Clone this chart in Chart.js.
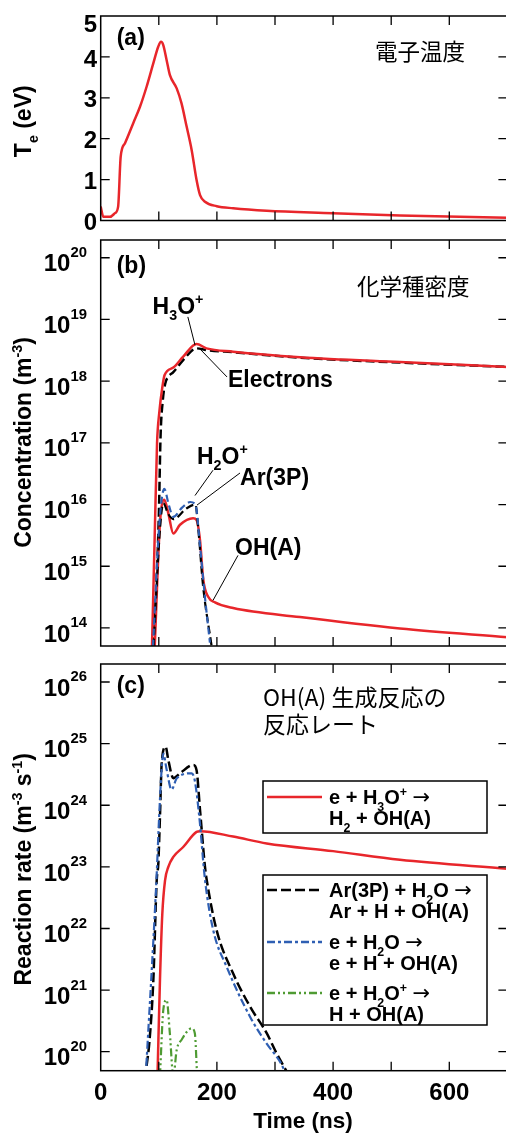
<!DOCTYPE html>
<html><head><meta charset="utf-8">
<script src="https://cdn.jsdelivr.net/npm/chart.js@4/dist/chart.umd.min.js"></script>
<style>
html,body{margin:0;padding:0;background:#fff;overflow:hidden;width:506px;height:1133px;position:relative;}
canvas{position:absolute;left:0;}
</style></head><body>
<canvas id="ca" width="512" height="230" style="top:0px"></canvas>
<canvas id="cb" width="512" height="425" style="top:230px"></canvas>
<canvas id="cc" width="512" height="478" style="top:655px"></canvas>
<script>
// ---------- axis ticks ----------
const timeTicks = [0, 100, 200, 300, 400, 500, 600, 700];
const timeTickLabels = [0, 200, 400, 600];
const teTicks = [0, 1, 2, 3, 4, 5];
const concDecades = [14, 15, 16, 17, 18, 19, 20];
const rateDecades = [20, 21, 22, 23, 24, 25, 26];

// ---------- (a) electron temperature ----------
const teTime  = [0, 4.5, 16, 24.6, 30, 34.4, 41.8, 56, 67.6, 79, 90.5, 99, 103.8, 107.7, 113.5, 119, 130.8, 139, 148, 156.6, 165, 171, 179.5, 199.7, 228, 285.7, 400, 515, 700];
const teValue = [0.34, 0.09, 0.09, 0.18, 0.34, 1.56, 1.89, 2.38, 2.78, 3.27, 3.84, 4.25, 4.37, 4.29, 3.92, 3.56, 3.23, 2.87, 2.29, 1.72, 0.99, 0.62, 0.46, 0.35, 0.30, 0.24, 0.18, 0.12, 0.07];

// ---------- (b) species densities (m^-3) ----------
const h3oTime = [88, 93, 97, 101, 106, 110, 125, 142, 165, 182, 228, 343, 515, 700];
const h3oConc = [4.0e13, 3.2e15, 1.0e17, 3.2e17, 7.9e17, 1.26e18, 1.66e18, 2.5e18, 4.0e18, 3.4e18, 3.0e18, 2.45e18, 2.04e18, 1.7e18];
const elecTime = [91, 100, 103, 107, 111, 116, 125, 142, 165, 182, 228, 343, 515, 700];
const elecConc = [5.0e13, 6.3e15, 1.26e17, 5.0e17, 9.1e17, 1.17e18, 1.4e18, 2.2e18, 3.4e18, 3.2e18, 2.95e18, 2.4e18, 2.0e18, 1.7e18];
const ohTime = [93, 102, 109.5, 116.4, 125, 136.5, 159, 165, 171, 176.6, 185, 196.7, 228, 343, 515, 700];
const ohConc = [5.0e13, 5.0e15, 1.2e16, 7.2e15, 3.4e15, 4.7e15, 6.0e15, 5.6e15, 2.6e15, 6.0e14, 3.2e14, 2.6e14, 2.1e14, 1.5e14, 9.8e13, 7.1e13];
const h2oTime = [90, 101, 109.5, 117, 125, 140, 154, 163, 171, 180, 188];
const h2oConc = [5.0e13, 5.0e15, 1.8e16, 1.0e16, 6.3e15, 8.9e15, 1.1e16, 1.0e16, 2.1e15, 2.8e14, 5.8e13];
const arTime = [91, 102, 107.8, 116, 125, 148, 163, 168, 176, 191];
const arConc = [5.0e13, 4.0e15, 1.05e16, 7.1e15, 5.8e15, 8.7e15, 1.0e16, 4.0e15, 5.0e14, 5.0e13];

// ---------- (c) reaction rates (m^-3 s^-1) ----------
const rArTime = [79, 83.7, 90.6, 96.4, 99.2, 102, 105, 111.8, 116.4, 125, 136.5, 159.4, 165, 171, 179.5, 182.4, 199.6, 228, 257, 285.7, 303, 320];
const rArRate = [5.9e19, 1.4e20, 1.45e21, 6.0e22, 1.15e23, 6.5e23, 4.8e24, 8.9e24, 5.4e24, 2.75e24, 3.3e24, 4.5e24, 3.7e24, 8.3e23, 1.0e23, 6.2e22, 9.3e21, 1.86e21, 5.4e20, 2.0e20, 9.3e19, 4.8e19];
const rEH2OTime = [78.5, 90.6, 96, 101, 105, 107.8, 113, 122, 131, 156.6, 162, 169.7, 179.5, 193.8, 216.7, 257, 285.7, 308.6, 317];
const rEH2ORate = [5.9e19, 6.3e21, 6.3e22, 7.9e23, 4.0e24, 6.9e24, 4.0e24, 1.8e24, 2.75e24, 3.3e24, 2.5e24, 6.5e23, 6.2e22, 9.3e21, 2.4e21, 3.7e20, 1.35e20, 6.9e19, 4.8e19];
const rH3OTime = [98, 102, 106, 110.7, 116.4, 125, 142, 165, 171, 228, 285.7, 400, 515, 700];
const rH3ORate = [5.0e19, 1.45e21, 1.7e22, 6.0e22, 1.0e23, 1.45e23, 2.1e23, 3.7e23, 3.8e23, 3.1e23, 2.4e23, 1.8e23, 1.3e23, 9.3e22];
const rH2OpTime = [102, 107.8, 113.5, 119, 125, 130.8, 139, 156.6, 162, 166];
const rH2OpRate = [4.0e19, 4.8e20, 6.9e20, 2.0e20, 4.0e19, 1.07e20, 1.55e20, 2.4e20, 2.0e20, 4.0e19];

// ---------- helpers ----------
const SANS = '"Liberation Sans", Arial, Helvetica, sans-serif';
const JP = '"Noto Sans CJK JP", "Noto Sans", sans-serif';
const ARROW = '"DejaVu Sans", sans-serif';
const RED = '#e8262b', BLUE = '#2f5fb3', GREEN = '#4f9b33', BLACK = '#000000';

function pts(xs, ys) { return xs.map((x, i) => ({x: x, y: ys[i]})); }

function segFont(s, o) {
  const size = o.size, wt = o.weight || 'bold', fam = o.family || SANS, sc = o.scale || 0.62;
  if (s[1] === 3) return 'normal ' + (size * 1.05) + 'px ' + ARROW;
  return wt + ' ' + (s[1] ? size * sc : size) + 'px ' + fam;
}

function rich(ctx, segs, x, y, o) {
  const size = o.size;
  const supDy = (o.supDy !== undefined ? o.supDy : -0.45) * size;
  const subDy = (o.subDy !== undefined ? o.subDy : 0.28) * size;
  const widths = []; let total = 0;
  for (const s of segs) {
    ctx.font = segFont(s, o);
    const w = ctx.measureText(s[0]).width; widths.push(w); total += w;
  }
  let sx = o.align === 'center' ? x - total / 2 : (o.align === 'right' ? x - total : x);
  const base = y + size * 0.36;
  ctx.textBaseline = 'alphabetic'; ctx.textAlign = 'left'; ctx.fillStyle = o.color || '#000';
  segs.forEach((s, i) => {
    ctx.font = segFont(s, o);
    ctx.fillText(s[0], sx, base + (s[1] === 1 ? subDy : (s[1] === 2 ? supDy : 0)));
    sx += widths[i];
  });
}

function frameAndTicks(chart, yVals) {
  const ctx = chart.ctx, a = chart.chartArea, x = chart.scales.x, y = chart.scales.y;
  ctx.save();
  ctx.strokeStyle = '#000'; ctx.lineWidth = 1.5;
  ctx.strokeRect(a.left, a.top, a.right - a.left, a.bottom - a.top);
  ctx.lineWidth = 1.3; ctx.beginPath();
  for (const t of timeTicks) {
    const px = x.getPixelForValue(t);
    if (px <= a.left + 1 || px >= a.right - 1) continue;
    ctx.moveTo(px, a.top); ctx.lineTo(px, a.top + 9);
    ctx.moveTo(px, a.bottom); ctx.lineTo(px, a.bottom - 9);
  }
  for (const v of yVals) {
    const py = y.getPixelForValue(v);
    if (py <= a.top + 1 || py >= a.bottom - 1) continue;
    ctx.moveTo(a.left, py); ctx.lineTo(a.left + 9, py);
    ctx.moveTo(a.right, py); ctx.lineTo(a.right - 9, py);
  }
  ctx.stroke(); ctx.restore();
}

function logLabels(chart, decades) {
  const ctx = chart.ctx, y = chart.scales.y;
  ctx.save();
  for (const k of decades) {
    const py = y.getPixelForValue(Math.pow(10, k));
    rich(ctx, [['10'], [String(k), 2]], 87, py + 5, {size: 24, align: 'right', supDy: -0.59});
  }
  ctx.restore();
}

function yTitle(chart, segs, dy) {
  const ctx = chart.ctx, a = chart.chartArea;
  ctx.save();
  ctx.translate(23, (a.top + a.bottom) / 2 + dy);
  ctx.rotate(-Math.PI / 2);
  rich(ctx, segs, 0, 0, {size: 23, align: 'center', supDy: -0.42, subDy: 0.3});
  ctx.restore();
}

function baseOptions(yScale, topPad, bottomH) {
  return {
    responsive: false, animation: false, devicePixelRatio: 1,
    layout: {padding: {left: 0, right: 4.6, top: topPad, bottom: 0}},
    plugins: {legend: {display: false}, tooltip: {enabled: false}},
    elements: {point: {radius: 0}, line: {borderWidth: 2.5, tension: 0, borderJoinStyle: 'round', borderCapStyle: 'butt'}},
    scales: {
      x: {type: 'linear', min: 0, max: 700, ticks: {display: false}, grid: {display: false}, border: {display: false},
          afterFit: s => { s.height = bottomH; }},
      y: Object.assign({ticks: {display: false}, grid: {display: false}, border: {display: false},
          afterFit: s => { s.width = 100.7; }}, yScale)
    }
  };
}

function ds(data, color, dash, width) {
  return {data: data, borderColor: color, backgroundColor: color, borderDash: dash || [], borderWidth: width || 2.5,
          fill: false, pointRadius: 0, cubicInterpolationMode: 'monotone'};
}

// ---------- chart (a) ----------
new Chart(document.getElementById('ca'), {
  type: 'line',
  data: {datasets: [ds(pts(teTime, teValue), RED)]},
  options: baseOptions({type: 'linear', min: 0, max: 5}, 16, 9.5),
  plugins: [{
    id: 'decoA',
    afterDatasetsDraw(chart) {
      const ctx = chart.ctx, a = chart.chartArea, y = chart.scales.y;
      frameAndTicks(chart, teTicks);
      ctx.save();
      for (const v of teTicks) {
        const py = y.getPixelForValue(v);
        rich(ctx, [[String(v)]], 97, Math.max(py + 1, 23.5), {size: 24, align: 'right'});
      }
      yTitle(chart, [['T'], ['e', 1], [' (eV)']], 3);
      rich(ctx, [['(a)']], a.left + 16, a.top + 21, {size: 23});
      rich(ctx, [['電子温度']], 375, 52, {size: 22.5, weight: 'normal', family: JP});
      ctx.restore();
    }
  }]
});

// ---------- chart (b) ----------
const annB = [
  {segs: [['H'], ['3', 1], ['O'], ['+', 2]], t: 133, v: 1.7e19, align: 'center', line: [[150, 1.1e19], [162.3, 3.85e18]]},
  {segs: [['Electrons']], t: 219, v: 1.08e18, align: 'left', line: [[172.6, 3.2e18], [217.4, 1.17e18]]},
  {segs: [['H'], ['2', 1], ['O'], ['+', 2]], t: 165.7, v: 6.3e16, align: 'left', line: [[193.3, 3.6e16], [162.3, 1.4e16]]},
  {segs: [['Ar(3P)']], t: 239.8, v: 2.8e16, align: 'left', line: [[239.8, 3.25e16], [165.7, 9.8e15]]},
  {segs: [['OH(A)']], t: 231.2, v: 2.04e15, align: 'left', line: [[236.3, 1.5e15], [193.3, 2.8e14]]}
];
new Chart(document.getElementById('cb'), {
  type: 'line',
  data: {datasets: [
    ds(pts(h2oTime, h2oConc), BLUE, [7, 4], 2.2),
    ds(pts(arTime, arConc), BLACK, [8, 4], 2.2),
    ds(pts(ohTime, ohConc), RED),
    ds(pts(h3oTime, h3oConc), RED),
    ds(pts(elecTime, elecConc), BLACK, [9, 4], 2.5)
  ]},
  options: baseOptions({type: 'logarithmic', min: 5.1e13, max: 1.94e20}, 10, 9),
  plugins: [{
    id: 'decoB',
    afterDatasetsDraw(chart) {
      const ctx = chart.ctx, a = chart.chartArea, x = chart.scales.x, y = chart.scales.y;
      frameAndTicks(chart, concDecades.map(k => Math.pow(10, k)));
      logLabels(chart, concDecades);
      yTitle(chart, [['Concentration (m'], ['-3', 2], [')']], -0.5);
      ctx.save();
      rich(ctx, [['(b)']], a.left + 16, a.top + 25, {size: 23});
      rich(ctx, [['化学種密度']], 357, 57, {size: 22.5, weight: 'normal', family: JP});
      ctx.strokeStyle = '#000'; ctx.lineWidth = 1;
      for (const n of annB) {
        ctx.beginPath();
        ctx.moveTo(x.getPixelForValue(n.line[0][0]), y.getPixelForValue(n.line[0][1]));
        ctx.lineTo(x.getPixelForValue(n.line[1][0]), y.getPixelForValue(n.line[1][1]));
        ctx.stroke();
        rich(ctx, n.segs, x.getPixelForValue(n.t), y.getPixelForValue(n.v), {size: 23, align: n.align, supDy: -0.4, subDy: 0.3});
      }
      ctx.restore();
    }
  }]
});

// ---------- chart (c) ----------
const legendC = [
  {color: RED, dash: [], l1: [['e + H'], ['3', 1], ['O'], ['+', 2], [' '], ['→', 3]], l2: [['H'], ['2', 1], [' + OH(A)']]},
  {color: BLACK, dash: [10, 4], l1: [['Ar(3P) + H'], ['2', 1], ['O '], ['→', 3]], l2: [['Ar + H + OH(A)']]},
  {color: BLUE, dash: [8, 3, 3, 3], l1: [['e + H'], ['2', 1], ['O '], ['→', 3]], l2: [['e + H + OH(A)']]},
  {color: GREEN, dash: [8, 3, 2, 3, 2, 3], l1: [['e + H'], ['2', 1], ['O'], ['+', 2], [' '], ['→', 3]], l2: [['H + OH(A)']]}
];
new Chart(document.getElementById('cc'), {
  type: 'line',
  data: {datasets: [
    ds(pts(rH2OpTime, rH2OpRate), GREEN, [8, 3, 2, 3, 2, 3], 2.2),
    ds(pts(rEH2OTime, rEH2ORate), BLUE, [8, 3, 3, 3], 2.2),
    ds(pts(rArTime, rArRate), BLACK, [10, 4], 2.5),
    ds(pts(rH3OTime, rH3ORate), RED)
  ]},
  options: baseOptions({type: 'logarithmic', min: 4.92e19, max: 1.96e26}, 9, 62.3),
  plugins: [{
    id: 'decoC',
    afterDatasetsDraw(chart) {
      const ctx = chart.ctx, a = chart.chartArea, x = chart.scales.x;
      frameAndTicks(chart, rateDecades.map(k => Math.pow(10, k)));
      logLabels(chart, rateDecades);
      yTitle(chart, [['Reaction rate (m'], ['-3', 2], [' s'], ['-1', 2], [')']], 2);
      ctx.save();
      for (const t of timeTickLabels) {
        rich(ctx, [[String(t)]], x.getPixelForValue(t), a.bottom + 21, {size: 24, align: 'center'});
      }
      rich(ctx, [['Time (ns)']], 303, a.bottom + 49, {size: 22.5, align: 'center'});
      rich(ctx, [['(c)']], a.left + 16, a.top + 21, {size: 23});
      rich(ctx, [['OH(A) 生成反応の']], 263, 43, {size: 23, weight: 'normal', family: JP});
      rich(ctx, [['反応レート']], 263, 70, {size: 23, weight: 'normal', family: JP});
      // legend boxes
      const boxes = [[263, 126, 224, 52], [263, 220, 224, 150]];
      ctx.lineWidth = 1.5; ctx.strokeStyle = '#000';
      for (const b of boxes) { ctx.fillStyle = '#fff'; ctx.fillRect(b[0], b[1], b[2], b[3]); ctx.strokeRect(b[0], b[1], b[2], b[3]); }
      const rowY = [142, 235, 287, 338];
      legendC.forEach((e, i) => {
        const yy = rowY[i];
        ctx.save(); ctx.strokeStyle = e.color; ctx.lineWidth = 2.5; ctx.setLineDash(e.dash);
        ctx.beginPath(); ctx.moveTo(267, yy); ctx.lineTo(322, yy); ctx.stroke(); ctx.restore();
        rich(ctx, e.l1, 329, yy, {size: 20, supDy: -0.4, subDy: 0.32});
        rich(ctx, e.l2, 329, yy + 21, {size: 20, supDy: -0.4, subDy: 0.32});
      });
      ctx.restore();
    }
  }]
});
</script>
</body></html>
